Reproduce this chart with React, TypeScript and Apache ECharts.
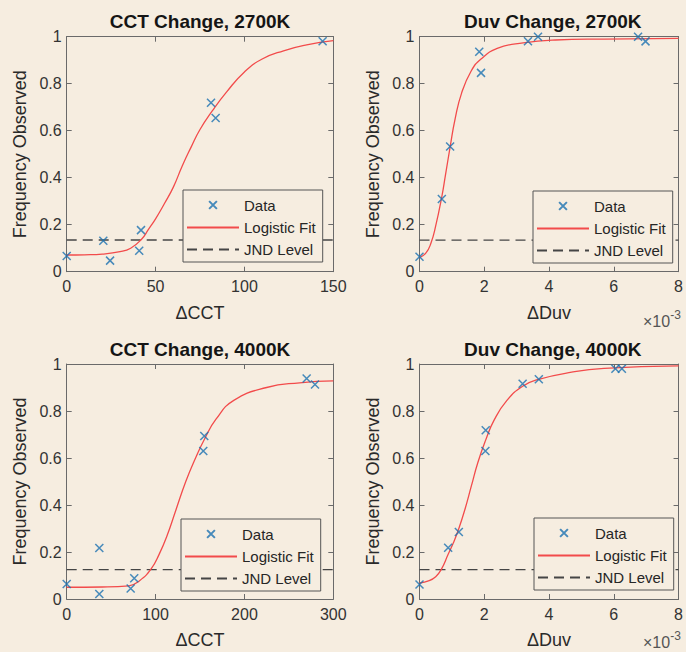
import React, { useEffect, useRef } from 'react';
import * as echarts from 'echarts';

// ---------- data ----------
// Panel 1: CCT Change, 2700K
const cct2700X = [0, 20.6, 24.4, 40.8, 41.8, 81.2, 83.8, 144];
const cct2700Y = [0.067, 0.132, 0.047, 0.089, 0.177, 0.719, 0.654, 0.981];
const cct2700FitX = [0, 10, 20, 30, 36, 42, 46, 50, 55, 60, 65, 70, 75, 82, 90, 100, 110, 122, 135, 150];
const cct2700FitY = [0.071, 0.072, 0.075, 0.085, 0.1, 0.137, 0.18, 0.225, 0.29, 0.36, 0.45, 0.53, 0.605, 0.685, 0.765, 0.85, 0.905, 0.94, 0.965, 0.983];

// Panel 2: Duv Change, 2700K (x in units of 10^-3)
const duv2700X = [0, 0.69, 0.945, 1.845, 1.9, 3.35, 3.66, 6.75, 6.98];
const duv2700Y = [0.064, 0.309, 0.533, 0.936, 0.846, 0.981, 1.0, 1.0, 0.98];
const duv2700FitX = [0, 0.2, 0.35, 0.5, 0.69, 0.8, 0.945, 1.1, 1.3, 1.6, 1.9, 2.4, 3.2, 4.2, 5.7, 8];
const duv2700FitY = [0.06, 0.08, 0.12, 0.195, 0.32, 0.41, 0.53, 0.65, 0.76, 0.855, 0.905, 0.95, 0.974, 0.986, 0.99, 0.993];

// Panel 3: CCT Change, 4000K
const cct4000X = [0, 36.7, 36.7, 72, 76, 153.7, 154.8, 270, 279.4];
const cct4000Y = [0.064, 0.217, 0.021, 0.045, 0.088, 0.63, 0.694, 0.938, 0.913];
const cct4000FitX = [0, 40, 70, 82, 95, 104, 113, 123, 134, 145, 155, 168, 188, 225, 262, 300];
const cct4000FitY = [0.05, 0.051, 0.056, 0.078, 0.128, 0.19, 0.27, 0.38, 0.5, 0.6, 0.68, 0.765, 0.845, 0.9, 0.92, 0.928];

// Panel 4: Duv Change, 4000K (x in units of 10^-3)
const duv4000X = [0, 0.885, 1.215, 2.035, 2.045, 3.185, 3.685, 6.05, 6.25];
const duv4000Y = [0.062, 0.218, 0.285, 0.63, 0.718, 0.916, 0.935, 0.98, 0.98];
const duv4000FitX = [0, 0.3, 0.5, 0.67, 0.885, 1.05, 1.215, 1.4, 1.6, 1.8, 2.04, 2.3, 2.7, 3.185, 3.685, 4.7, 5.7, 8];
const duv4000FitY = [0.068, 0.078, 0.095, 0.125, 0.19, 0.24, 0.3, 0.38, 0.48, 0.58, 0.675, 0.76, 0.845, 0.905, 0.935, 0.965, 0.981, 0.992];

const titles = ['CCT Change, 2700K', 'Duv Change, 2700K', 'CCT Change, 4000K', 'Duv Change, 4000K'];
const xNames = ['\u0394CCT', '\u0394Duv', '\u0394CCT', '\u0394Duv'];
const xMaxes = [150, 8, 300, 8];
const xIntervals = [50, 2, 100, 2];
const jndLevels = [0.135, 0.134, 0.125, 0.125];
const yTicks = { min: 0, max: 1, interval: 0.2 };
const legendNames = ['Data', 'Logistic Fit', 'JND Level'];

const dataXs = [cct2700X, duv2700X, cct4000X, duv4000X];
const dataYs = [cct2700Y, duv2700Y, cct4000Y, duv4000Y];
const fitXs = [cct2700FitX, duv2700FitX, cct4000FitX, duv4000FitX];
const fitYs = [cct2700FitY, duv2700FitY, cct4000FitY, duv4000FitY];

// ---------- layout / style ----------
const BG = '#F6EDE0';
const FONT = '"Liberation Sans", Arial, Helvetica, sans-serif';
const AX = '#6a6a6a';
const BLUE = '#1a70b0';
const RED = '#f24b4b';
const GRIDS = [
  { left: 66.7, top: 36.7 },
  { left: 419.5, top: 36.7 },
  { left: 66.7, top: 364 },
  { left: 419.5, top: 364 },
];
const GW = 266.6;
const GH = 235;
const LEGENDS = [
  { left: 183, top: 190 },
  { left: 533, top: 191 },
  { left: 181, top: 519 },
  { left: 534, top: 518 },
];
const EXP_Y = [329, 650];
const XMARK = 'path://M-4,-4M14,14M0,0L10,10M10,0L0,10';

function buildOption() {
  const grid: any[] = [];
  const xAxis: any[] = [];
  const yAxis: any[] = [];
  const series: any[] = [];
  const legend: any[] = [];
  const graphic: any[] = [];

  GRIDS.forEach((g, i) => {
    grid.push({ left: g.left, top: g.top, width: GW, height: GH, containLabel: false });
    const lineCommon = {
      axisLine: { show: true, onZero: false, lineStyle: { color: AX, width: 1 } },
      axisTick: { show: true, inside: true, length: 5, lineStyle: { color: AX, width: 1 } },
      splitLine: { show: false },
    };
    xAxis.push({
      gridIndex: i, type: 'value', position: 'bottom', min: 0, max: xMaxes[i], interval: xIntervals[i],
      name: xNames[i], nameLocation: 'middle', nameGap: 32,
      nameTextStyle: { fontSize: 18, color: '#2a2a2a', fontFamily: FONT },
      axisLabel: { margin: 7, fontSize: 16, color: '#333', fontFamily: FONT },
      ...lineCommon,
    });
    xAxis.push({
      gridIndex: i, type: 'value', position: 'top', min: 0, max: xMaxes[i], interval: xIntervals[i],
      axisLabel: { show: false }, ...lineCommon,
    });
    yAxis.push({
      gridIndex: i, type: 'value', position: 'left', ...yTicks,
      name: 'Frequency Observed', nameLocation: 'middle', nameGap: 38,
      nameTextStyle: { fontSize: 18, color: '#2a2a2a', fontFamily: FONT },
      axisLabel: { margin: 5, fontSize: 16, color: '#333', fontFamily: FONT },
      ...lineCommon,
    });
    yAxis.push({
      gridIndex: i, type: 'value', position: 'right', ...yTicks,
      axisLabel: { show: false }, ...lineCommon,
    });

    const xi = i * 2;
    series.push({
      type: 'scatter', name: 'Data', xAxisIndex: xi, yAxisIndex: xi,
      data: dataXs[i].map((x, j) => [x, dataYs[i][j]]),
      symbol: XMARK, symbolSize: 14.4,
      itemStyle: { color: BLUE, borderColor: BLUE, borderWidth: 1.5 },
      z: 4,
    });
    series.push({
      type: 'line', name: 'Logistic Fit', xAxisIndex: xi, yAxisIndex: xi,
      data: fitXs[i].map((x, j) => [x, fitYs[i][j]]),
      smooth: 0.5, symbol: 'none', showSymbol: false,
      lineStyle: { color: RED, width: 1.3 }, itemStyle: { color: RED, opacity: 0 },
      z: 3,
    });
    series.push({
      type: 'line', name: 'JND Level', xAxisIndex: xi, yAxisIndex: xi,
      data: [[0, jndLevels[i]], [xMaxes[i], jndLevels[i]]],
      symbol: 'none', showSymbol: false,
      lineStyle: { color: '#454545', width: 1.3, type: [10, 6] }, itemStyle: { color: '#454545', opacity: 0 },
      z: 2,
    });

    legend.push({
      orient: 'vertical', left: LEGENDS[i].left, top: LEGENDS[i].top,
      data: legendNames, itemWidth: 52, itemHeight: 14, itemGap: 7,
      padding: [7, 7, 5, 3], borderColor: '#555', borderWidth: 1, backgroundColor: BG,
      textStyle: { fontSize: 15, color: '#262626', fontFamily: FONT },
      selectedMode: false, z: 10,
    });

    const cx = g.left + GW / 2;
    graphic.push({
      type: 'text', x: cx, y: g.top - 15,
      style: {
        text: titles[i], font: `bold 19px ${FONT}`, fill: '#151515',
        align: 'center', verticalAlign: 'middle', textAlign: 'center', textVerticalAlign: 'middle',
      },
    });
    if (i % 2 === 1) {
      graphic.push({
        type: 'text', x: 643, y: EXP_Y[(i - 1) / 2],
        style: {
          text: '{b|\u00d710}{s|-3}',
          rich: {
            b: { fontSize: 16, fontFamily: FONT, fill: '#555', color: '#555', lineHeight: 20, verticalAlign: 'bottom' },
            s: { fontSize: 12, fontFamily: FONT, fill: '#555', color: '#555', verticalAlign: 'top' },
          },
          verticalAlign: 'bottom', textVerticalAlign: 'bottom',
        },
      });
    }
  });

  return {
    animation: false,
    backgroundColor: BG,
    grid, xAxis, yAxis, series, legend, graphic,
  };
}

export default function App() {
  const ref = useRef<HTMLDivElement>(null);
  useEffect(() => {
    if (!ref.current) return;
    const chart = echarts.init(ref.current, null, { renderer: 'svg' });
    chart.setOption(buildOption());
    return () => chart.dispose();
  }, []);
  return (
    <div
      ref={ref}
      style={{ position: 'absolute', left: 0, top: 0, width: 686, height: 652, background: BG }}
    />
  );
}
